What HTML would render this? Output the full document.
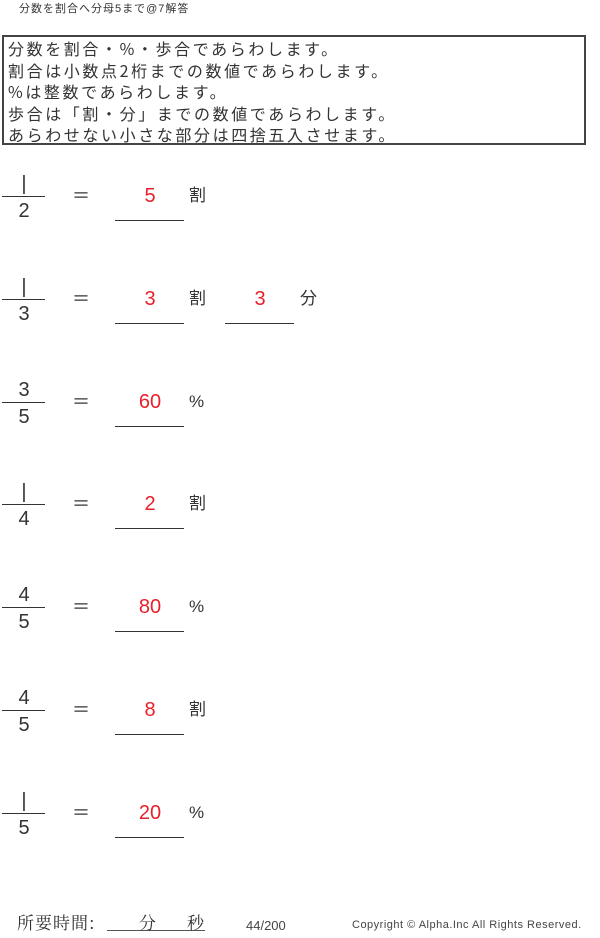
<!DOCTYPE html><html><head><meta charset="utf-8"><style>
body{margin:0;width:600px;height:938px;background:#fff;position:relative;font-family:"Liberation Sans","Noto Sans CJK JP",sans-serif;color:#333;overflow:hidden}
.a{position:absolute;white-space:nowrap;line-height:1}
.box{position:absolute;left:2px;top:35px;width:584px;height:110px;border:2px solid #444;font-family:"Noto Sans CJK JP",sans-serif;font-size:16px;line-height:21.5px;padding-left:4px;padding-top:1px;box-sizing:border-box;letter-spacing:2.6px;white-space:nowrap}
.fl{position:absolute;left:2px;width:43px;height:1px;background:#333}
.ul{position:absolute;width:69px;height:1px;background:#333}
.n{font-size:20px;width:40px;text-align:center}
.r{color:#e8202a}
</style></head><body>
<div class="a" style="left:19px;top:4px;font-size:11px;letter-spacing:1px">分数を割合へ分母5まで@7解答</div>
<div class="box">分数を割合・%・歩合であらわします。<br>割合は小数点2桁までの数値であらわします。<br>%は整数であらわします。<br>歩合は「割・分」までの数値であらわします。<br>あらわせない小さな部分は四捨五入させます。</div>

<div id="rows"></div>
<script>
var d=[["1","2","5","割"],["1","3","3","割","3","分"],["3","5","60","%"],["1","4","2","割"],["4","5","80","%"],["4","5","8","割"],["1","5","20","%"]];
var h="";
d.forEach(function(r,i){var y=196+i*102.8;
h+='<div class="fl" style="top:'+y+'px"></div>';
h+='<div class="a n" style="left:4px;top:'+(y-22)+'px">'+(r[0]=="1"?"|":r[0])+'</div>';
h+='<div class="a n" style="left:4px;top:'+(y+5)+'px">'+r[1]+'</div>';
h+='<div class="a" style="left:72px;top:'+(y-10)+'px;font-size:18px;font-family:\'Noto Sans CJK JP\',sans-serif">＝</div>';
h+='<div class="a n r" style="left:130px;top:'+(y-10)+'px">'+r[2]+'</div>';
h+='<div class="ul" style="left:115px;top:'+(y+24)+'px"></div>';
h+='<div class="a" style="left:189px;top:'+(y-9)+'px;font-size:17px">'+r[3]+'</div>';
if(r[4]){h+='<div class="a n r" style="left:240px;top:'+(y-10)+'px">'+r[4]+'</div>';
h+='<div class="ul" style="left:225px;top:'+(y+24)+'px"></div>';
h+='<div class="a" style="left:300px;top:'+(y-9)+'px;font-size:17px">'+r[5]+'</div>';}
});
document.getElementById("rows").innerHTML=h;
</script>

<div class="a" style="left:17px;top:913px;font-size:17px;letter-spacing:1px;font-family:'Noto Serif CJK SC',serif">所要時間:</div>
<div style="position:absolute;left:107px;top:930px;width:98px;height:1px;background:#555"></div>
<div class="a" style="left:139px;top:913px;font-size:17px;font-family:'Noto Serif CJK SC',serif">分</div>
<div class="a" style="left:187px;top:913px;font-size:17px;font-family:'Noto Serif CJK SC',serif">秒</div>
<div class="a" style="left:246px;top:919px;font-size:13px;color:#444">44/200</div>
<div class="a" style="left:352px;top:920px;font-size:11px;color:#444;letter-spacing:0.5px">Copyright ©  Alpha.Inc All Rights Reserved.</div>
</body></html>
